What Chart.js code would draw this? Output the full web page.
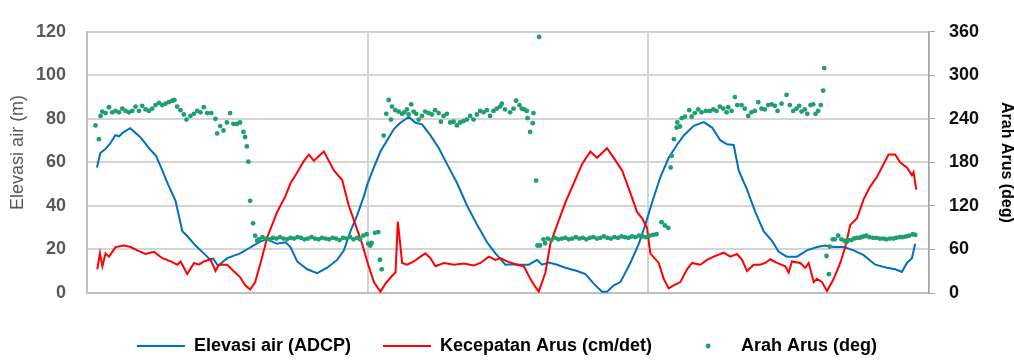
<!DOCTYPE html>
<html>
<head>
<meta charset="utf-8">
<script src="https://cdn.jsdelivr.net/npm/chart.js@4.4.1/dist/chart.umd.min.js"></script>
<style>
  html, body { margin: 0; padding: 0; background: #fff; }
</style>
</head>
<body>
<canvas id="chart" width="1014" height="361"></canvas>
<script>
// x values are hours counted from 06/03 00:00
let dayLabels = ['06/03', '07/03', '08/03', '09/03'];

let elevHours = [0.85, 1.14, 1.55, 1.99, 2.42, 2.75, 3.10, 3.70, 4.56, 5.41, 5.9, 6.27, 6.95, 7.57, 8.15, 8.57, 9.28, 10.14, 10.5, 10.8, 11.2, 12.0,
  13.1, 13.96, 14.84, 15.41, 16.26, 16.97, 17.40, 17.97, 18.83, 19.68, 20.54, 21.39, 21.97, 22.53, 23.1, 23.68, 24.0, 24.53, 25.09, 25.67,
  26.24, 26.8, 27.52, 28.09, 28.66, 29.37, 30.09, 30.79, 31.65, 32.5, 33.36, 34.21, 34.92, 35.78, 36.4, 37.03, 37.78, 38.49, 38.91, 39.49,
  40.2, 40.91, 41.91, 42.62, 43.33, 44.04, 44.47, 45.04, 45.61, 46.46, 47.18, 47.74, 48.32, 49.03, 49.74, 50.44, 51.03, 51.88, 52.74, 53.45,
  54.15, 54.73, 55.3, 55.73, 56.44, 57.15, 57.86, 58.57, 59.15, 59.85, 60.71, 61.56, 62.42, 63.13, 63.85, 64.7, 65.56, 66.41, 67.4, 68.4,
  69.11, 69.68, 70.11, 70.54, 70.82];
let elevValues = [57.7, 64.3, 66, 68.7, 72.5, 72, 73.8, 75.7, 71.6, 65.9, 63, 58.5, 49.7, 42.3, 28.4, 26.2, 21.8, 17.4, 15.5, 15.8, 12.5, 16,
  18.2, 20.9, 23.7, 24.7, 22.6, 23.3, 21.1, 14.5, 10.9, 9.1, 11.6, 15.2, 19.6, 28.4, 35.7, 44.5, 50.4, 57.7, 65, 70.2,
  75.3, 78.2, 80.9, 78.2, 77.5, 72.4, 66.5, 59.2, 50.4, 40.1, 31.3, 23.3, 18.2, 13, 13.2, 13, 13, 15.2, 13, 14,
  13, 11.6, 10.1, 8.7, 4.3, 0.6, 0.6, 3.5, 5, 13.8, 22.6, 31.3, 41.6, 53.3, 62.1, 68, 72.4, 76.8, 78.5, 76,
  70.2, 68.3, 68, 56.3, 47.5, 37.2, 28.4, 24, 18.9, 16.7, 16.7, 19.6, 21.1, 21.8, 21.1, 21.1, 19.6, 17.4, 13, 11.6,
  10.9, 9.7, 13.8, 16, 22.6];

let speedHours = [0.88, 1.11, 1.31, 1.59, 1.88, 2.44, 3.16, 3.73, 4.30, 5.01, 5.73, 6.44, 7.15, 7.72, 8.0, 8.57, 9.15, 9.57, 10.0, 10.56,
  10.99, 11.28, 11.99, 12.53, 13.1, 13.53, 13.96, 14.38, 14.84, 15.41, 16.26, 16.97, 17.40, 17.83, 18.55, 18.97, 19.4, 19.83, 20.26, 20.68,
  21.11, 21.82, 22.39, 22.96, 23.53, 23.96, 24.53, 25.09, 25.52, 26.09, 26.38, 26.58, 26.95, 27.38, 27.95, 28.51, 28.94, 29.37, 29.79, 30.51,
  31.37, 32.22, 33.08, 33.64, 34.36, 34.92, 35.35, 35.92, 36.78, 37.35, 37.91, 38.34, 38.63, 39.2, 39.62, 40.2, 40.91, 41.62, 42.33, 43.04,
  43.62, 44.04, 44.47, 45.04, 45.76, 46.46, 47.04, 47.47, 47.89, 48.17, 48.89, 49.32, 49.74, 50.17, 50.74, 51.31, 51.74, 52.45, 53.02, 53.59,
  54.44, 55.01, 55.58, 56.01, 56.44, 57.01, 57.57, 58.0, 58.43, 59.0, 59.71, 60.0, 60.28, 60.99, 61.42, 61.71, 62.14, 62.42, 62.85, 63.28,
  63.85, 64.41, 64.84, 65.27, 65.84, 66.41, 66.97, 67.54, 68.12, 68.54, 69.11, 69.54, 70.11, 70.54, 70.68, 70.91];
let speedValues = [10.9, 18.2, 12.3, 18.2, 16.7, 21.1, 21.8, 21.1, 19.6, 17.9, 18.9, 16, 14.5, 13, 14.5, 8.7, 13.8, 13, 14.5, 15.5,
  10.1, 13, 13, 10.1, 7.2, 3.5, 1.6, 5, 13.8, 25.5, 37.2, 44.5, 50.4, 54.1, 60.7, 63.6, 60.7, 62.9, 65, 60.7,
  56.3, 51.9, 40.1, 31.3, 22.6, 14.5, 5, 0.6, 4.3, 7.9, 9.4, 32.8, 13.8, 13, 14.5, 16.7, 18.2, 16, 12.3, 13.8,
  13, 13.5, 12.6, 13.8, 16.7, 15.2, 16, 14.5, 13, 12.3, 6.5, 2.8, 0.6, 9.4, 22.6, 31.3, 41.6, 50.4, 59.2, 65,
  62.1, 64.3, 66.5, 62.1, 56.3, 46, 37.2, 34.3, 29.9, 18.2, 13.8, 6.5, 2.1, 3.5, 5, 10.9, 13.8, 13, 15.2, 16.7,
  18.5, 16.7, 17.9, 15.2, 10.1, 13, 13, 13.8, 15.5, 13.8, 12.3, 9.4, 14.5, 13.8, 11.6, 13.8, 5, 6.5, 5, 0.9,
  6.5, 13.8, 21.1, 31.3, 34.3, 43, 48.9, 53.3, 59.2, 63.6, 63.6, 59.9, 57.7, 54.1, 55.5, 47.5];

let dirHours = [0.73, 1.02, 1.16, 1.31, 1.59, 1.88, 2.16, 2.44, 2.73, 3.02, 3.30, 3.59, 3.87, 4.15, 4.44, 4.72, 5.01, 5.30, 5.58, 5.86,
  6.15, 6.43, 6.71, 7.0, 7.29, 7.48, 7.71, 7.99, 8.28, 8.51, 8.85, 9.14, 9.42, 9.70, 9.99, 10.28, 10.62, 10.98, 11.13, 11.39,
  11.67, 11.96, 12.24, 12.52, 12.81, 13.09, 13.38, 13.52, 13.67, 13.80, 13.95, 14.20, 14.38, 14.55,
  14.7, 15.0, 15.3, 15.6, 15.9, 16.2, 16.5, 16.8, 17.1, 17.4, 17.7, 18.0, 18.3, 18.6, 18.9, 19.2, 19.5, 19.8, 20.1, 20.4,
  20.7, 21.0, 21.3, 21.6, 21.9, 22.2, 22.5, 22.8, 23.1, 23.34, 23.62, 23.91, 24.05, 24.22, 24.34, 24.62, 24.91, 25.05, 25.2,
  25.37, 25.59, 25.8, 25.99, 26.08, 26.36, 26.65, 26.93, 27.13, 27.36, 27.5, 27.72, 27.93, 28.15, 28.36, 28.64, 28.92, 29.21, 29.49, 29.77,
  30.07, 30.26, 30.49, 30.77, 31.06, 31.35, 31.63, 31.91, 32.2, 32.48, 32.76, 33.05, 33.34, 33.62, 33.91, 34.19, 34.47, 34.76, 35.04, 35.33,
  35.47, 35.75, 36.18, 36.47, 36.69, 36.98, 37.18, 37.38, 37.61, 37.67, 37.89, 38.12, 38.18, 38.4, 38.66, 38.52, 38.74, 39.03, 39.17,
  39.4, 39.7, 40.0, 40.3, 40.6, 40.9, 41.2, 41.5, 41.8, 42.1, 42.4, 42.7, 43.0, 43.3, 43.6, 43.9, 44.2, 44.5, 44.8, 45.1,
  45.4, 45.7, 46.0, 46.3, 46.6, 46.9, 47.2, 47.5, 47.8, 48.1, 48.4, 48.7,
  49.13, 49.42, 49.71, 49.91, 50.0, 50.19, 50.42, 50.48, 50.7, 50.85, 51.13, 51.5, 51.7, 51.98, 52.27, 52.55, 52.92, 53.26, 53.55, 53.83,
  54.12, 54.41, 54.69, 54.83, 55.12, 55.4, 55.6, 55.97, 56.25, 56.54, 56.82, 57.11, 57.4, 57.68, 57.96, 58.25, 58.54, 58.82, 59.05, 59.39,
  59.82, 60.1, 60.39, 60.67, 60.9, 61.1, 61.38, 61.59, 61.87, 62.1, 62.3, 62.52, 62.75, 62.95, 63.04, 63.24, 63.44,
  63.51, 63.77, 63.94, 64.23, 64.51, 64.77, 64.94, 65.11, 65.37, 65.58, 65.8, 66.05, 66.22, 66.43, 66.64, 66.9, 67.21, 67.5, 67.8, 68.1,
  68.35, 68.65, 68.95, 69.2, 69.49, 69.76, 70.05, 70.31, 70.62, 70.82];
let dirValues = [231, 212, 244, 250, 248, 256, 249, 251, 249, 254, 251, 249, 251, 257, 251, 258, 253, 251, 254, 259,
  262, 259, 261, 263, 265, 266, 257, 252, 246, 239, 244, 247, 251, 249, 256, 248, 248, 240, 220, 230,
  224, 235, 248, 233, 233, 235, 222, 215, 202, 181, 127, 96, 79, 72,
  74, 77, 75, 74, 76, 75, 77, 75, 74, 76, 75, 77, 76, 74, 75, 77, 75, 74, 76, 75,
  74, 76, 75, 73, 76, 75, 77, 74, 76, 74, 79, 81, 68, 65.5, 69, 83, 84, 45.8, 32.6,
  217, 247, 266, 239, 257, 252, 250, 247, 249, 253, 246, 260, 250, 247, 239, 244, 250, 248, 246, 252,
  248, 236, 244, 247, 235, 236, 231, 235, 237, 239, 244, 239, 246, 251, 249, 252, 244, 251, 254, 257,
  261, 253, 249, 254, 265, 259, 254, 253, 251, 241, 222, 234, 248, 155, 353, 65.5, 65.5, 74, 68.6,
  75, 73, 76, 74, 75, 76, 74, 75, 77, 75, 76, 74, 76, 77, 75, 76, 78, 76, 75, 77,
  76, 78, 77, 76, 78, 77, 79, 78, 77, 79, 80, 81,
  97.6, 93, 89.7, 173, 189, 212, 228, 235, 229.5, 241, 243, 252, 243, 248, 253, 249, 251, 251, 253, 251,
  257, 254, 249, 256, 251, 270, 259, 259, 254, 244, 249, 251, 263, 254, 253, 259, 260, 258, 251, 261,
  273, 259, 251, 254, 258, 250, 253, 247, 259, 260, 247, 251, 259, 279, 310, 51, 26,
  64, 74, 74, 79, 74, 72, 70, 73, 73, 75, 76, 76, 77, 78, 79, 77, 76, 76, 75, 75,
  74, 75, 75, 76, 77, 77, 78, 79, 81, 80];

const blue = '#0070c0';
const red = '#ff0000';
const green = '#1f9e6e';

const toPoints = (xs, ys) => xs.map((x, i) => ({ x: x, y: ys[i] }));

// small dot image for the scatter legend entry
let dot = document.createElement('canvas');
dot.width = 6;
dot.height = 6;
let dctx = dot.getContext('2d');
dctx.fillStyle = green;
dctx.beginPath();
dctx.arc(3, 3, 2.4, 0, Math.PI * 2);
dctx.fill();

Chart.defaults.font.family = '"Liberation Sans", Arial, sans-serif';

let ctx = document.getElementById('chart').getContext('2d');

let chart = new Chart(ctx, {
    type: 'line',
    data: {
        datasets: [{
            label: 'Elevasi air (ADCP)',
            data: toPoints(elevHours, elevValues),
            borderColor: blue,
            backgroundColor: blue,
            borderWidth: 2,
            pointRadius: 0,
            yAxisID: 'y',
            order: 3
        }, {
            label: 'Kecepatan Arus (cm/det)',
            data: toPoints(speedHours, speedValues),
            borderColor: red,
            backgroundColor: red,
            borderWidth: 2,
            pointRadius: 0,
            yAxisID: 'y',
            order: 2
        }, {
            label: 'Arah Arus (deg)',
            data: toPoints(dirHours, dirValues),
            showLine: false,
            borderColor: green,
            backgroundColor: green,
            borderWidth: 0,
            pointRadius: 2.4,
            yAxisID: 'y2',
            order: 1
        }]
    },
    options: {
        responsive: false,
        animation: false,
        layout: {
            padding: { top: 20, left: 0, right: 0, bottom: -4 }
        },
        plugins: {
            tooltip: { enabled: false },
            legend: {
                position: 'bottom',
                labels: {
                    usePointStyle: true,
                    pointStyleWidth: 48,
                    padding: 32,
                    color: '#000',
                    font: { size: 18, weight: 'bold' },
                    sort: (a, b) => a.datasetIndex - b.datasetIndex,
                    generateLabels: (chart) => {
                        let items = Chart.defaults.plugins.legend.labels.generateLabels(chart);
                        items.forEach(item => {
                            if (item.datasetIndex === 2) {
                                item.pointStyle = dot;
                                item.lineWidth = 0;
                            } else {
                                item.pointStyle = 'line';
                                item.lineWidth = 2;
                            }
                        });
                        return items;
                    }
                }
            }
        },
        scales: {
            x: {
                type: 'linear',
                min: 0,
                max: 72,
                afterFit: (s) => { s.height = 12; },
                ticks: {
                    stepSize: 24,
                    autoSkip: false,
                    maxRotation: 0,
                    padding: 13,
                    color: '#595959',
                    font: { size: 18, weight: 'bold' },
                    callback: (v) => dayLabels[v / 24]
                },
                grid: { color: '#d4d4d4', lineWidth: 2, drawTicks: false },
                border: { color: '#bfbfbf', width: 2 }
            },
            y: {
                position: 'left',
                min: 0,
                max: 120,
                afterFit: (s) => { s.width = 87; },
                ticks: {
                    stepSize: 20,
                    padding: 21,
                    color: '#595959',
                    font: { size: 18, weight: 'bold' }
                },
                grid: { color: '#d4d4d4', lineWidth: 2, drawTicks: false },
                border: { color: '#bfbfbf', width: 2 },
                title: {
                    display: true,
                    text: '    Elevasi air (m)',
                    color: '#595959',
                    font: { size: 18 },
                    padding: { top: 7, bottom: 0 }
                }
            },
            y2: {
                position: 'right',
                min: 0,
                max: 360,
                afterFit: (s) => { s.width = 85; },
                ticks: {
                    stepSize: 60,
                    padding: 14,
                    color: '#111',
                    font: { size: 18, weight: 'bold' }
                },
                grid: { drawOnChartArea: false, drawTicks: true, tickLength: 6, color: '#a6a6a6' },
                border: { color: '#a6a6a6', width: 1.5 },
                title: {
                    display: true,
                    text: 'Arah Arus (deg)',
                    color: '#000',
                    font: { size: 16, weight: 'bold', lineHeight: 1 },
                    padding: { top: 0, bottom: 0 }
                }
            }
        }
    }
});
</script>
</body>
</html>
